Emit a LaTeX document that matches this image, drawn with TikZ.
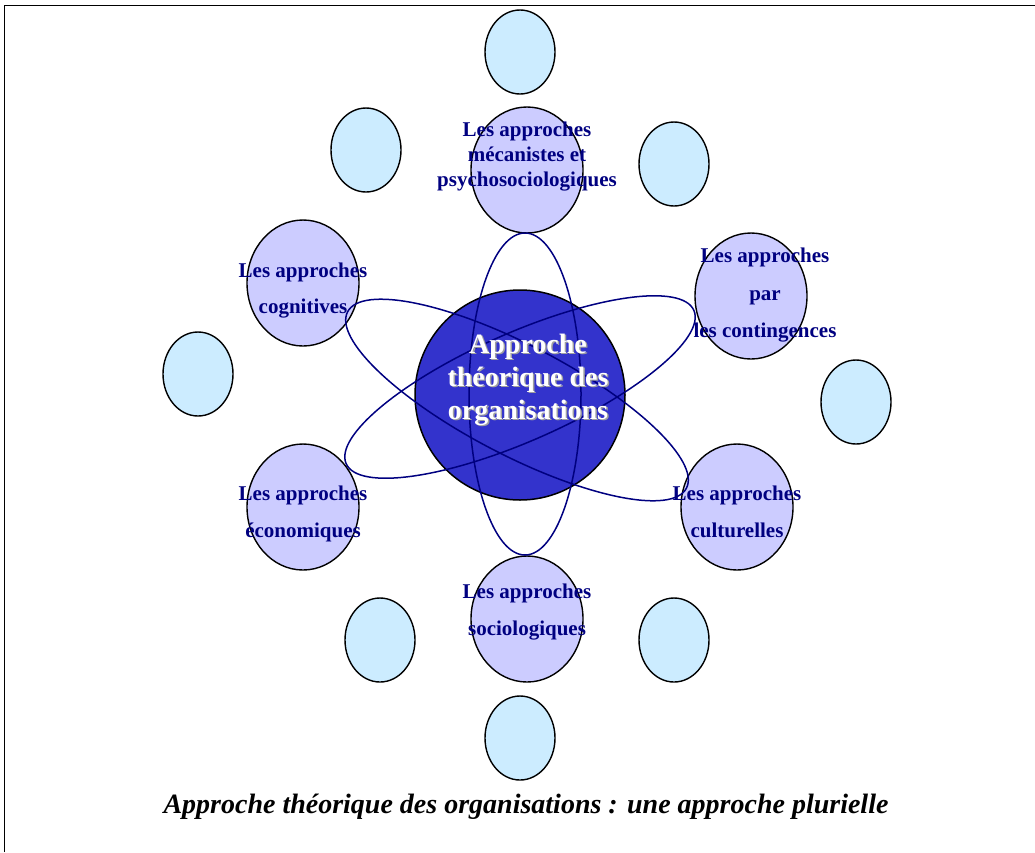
\documentclass[tikz,border=0pt]{standalone}
\usepackage{fontspec}
\setmainfont{Liberation Serif}
\usetikzlibrary{shapes.geometric}
\definecolor{lav}{HTML}{CCCCFF}
\definecolor{sky}{HTML}{CCECFF}
\definecolor{core}{HTML}{3333CC}
\definecolor{navyc}{HTML}{000080}
\definecolor{shade}{HTML}{A0A0A0}
\tikzset{
  smallov/.style={ellipse, draw=black, line width=1.4pt, fill=sky, minimum width=70, minimum height=84, inner sep=0pt},
  bigov/.style={ellipse, draw=black, line width=1.4pt, fill=lav, minimum width=112, minimum height=126, inner sep=0pt},
  corec/.style={circle, draw=black, line width=1.5pt, fill=core, minimum size=210, inner sep=0pt},
  orbit/.style={draw=navyc, line width=1.5pt},
  lbl/.style={anchor=base, text=navyc, font=\fontsize{21}{25}\selectfont\bfseries, inner sep=0pt},
  ctr/.style={anchor=base, text=white, font=\fontsize{28}{33}\selectfont\bfseries, inner sep=0pt},
  ctrsh/.style={anchor=base, text=shade, font=\fontsize{28}{33}\selectfont\bfseries, inner sep=0pt},
  frame/.style={draw=black, line width=1pt}
}
\begin{document}
\begin{tikzpicture}[x=1pt,y=-1pt]
\useasboundingbox (0,0) rectangle (1035,852);
\coordinate (f1) at (4,852);
\coordinate (f2) at (4,5);
\coordinate (f3) at (1035,5);
\draw[frame] (f1) -- (f2) -- (f3);
% small light blue ovals
\node[smallov] (s1) at (520,52) {};
\node[smallov] (s2) at (366,150) {};
\node[smallov] (s3) at (674,164) {};
\node[smallov] (s4) at (198,374) {};
\node[smallov] (s5) at (856,402) {};
\node[smallov] (s6) at (380,640) {};
\node[smallov] (s7) at (674,640) {};
\node[smallov] (s8) at (520,738) {};
% approach ovals
\node[bigov] (mec) at (527,170) {};
\node[bigov] (cog) at (303,283) {};
\node[bigov] (con) at (751,296) {};
\node[bigov] (eco) at (303,507) {};
\node[bigov] (cul) at (737,507) {};
\node[bigov] (soc) at (527,619) {};
% core
\node[corec] (core) at (520,395) {};
% orbits
\draw[orbit] (525,394) ellipse [x radius=56, y radius=161];
\draw[orbit, shift={(517,400)}, rotate=-27.5] (0,0) ellipse [x radius=191, y radius=55];
\draw[orbit, shift={(520,387)}, rotate=23.8] (0,0) ellipse [x radius=190, y radius=54];
% core text
\node[ctrsh] (c1s) at (529.5,354.5) {Approche};
\node[ctrsh] (c2s) at (529.5,387.5) {théorique des};
\node[ctrsh] (c3s) at (529.5,420.5) {organisations};
\node[ctr] (c1) at (528,353) {Approche};
\node[ctr] (c2) at (528,386) {théorique des};
\node[ctr] (c3) at (528,419) {organisations};
% labels
\node[lbl] (m1) at (527,136) {Les approches};
\node[lbl] (m2) at (527,161) {mécanistes et};
\node[lbl] (m3) at (527,186) {psychosociologiques};
\node[lbl] (g1) at (303,277) {Les approches};
\node[lbl] (g2) at (303,313) {cognitives};
\node[lbl] (k1) at (765,262) {Les approches};
\node[lbl] (k2) at (765,300) {par};
\node[lbl] (k3) at (765,337) {les contingences};
\node[lbl] (e1) at (303,500) {Les approches};
\node[lbl] (e2) at (303,537) {économiques};
\node[lbl] (u1) at (737,500) {Les approches};
\node[lbl] (u2) at (737,537) {culturelles};
\node[lbl] (o1) at (527,598) {Les approches};
\node[lbl] (o2) at (527,635) {sociologiques};
% caption
\node[anchor=base, inner sep=0pt, font=\fontsize{28}{33}\selectfont\bfseries\itshape] (cap) at (526,813) {Approche théorique des organisations : une approche plurielle};
\end{tikzpicture}
\end{document}
